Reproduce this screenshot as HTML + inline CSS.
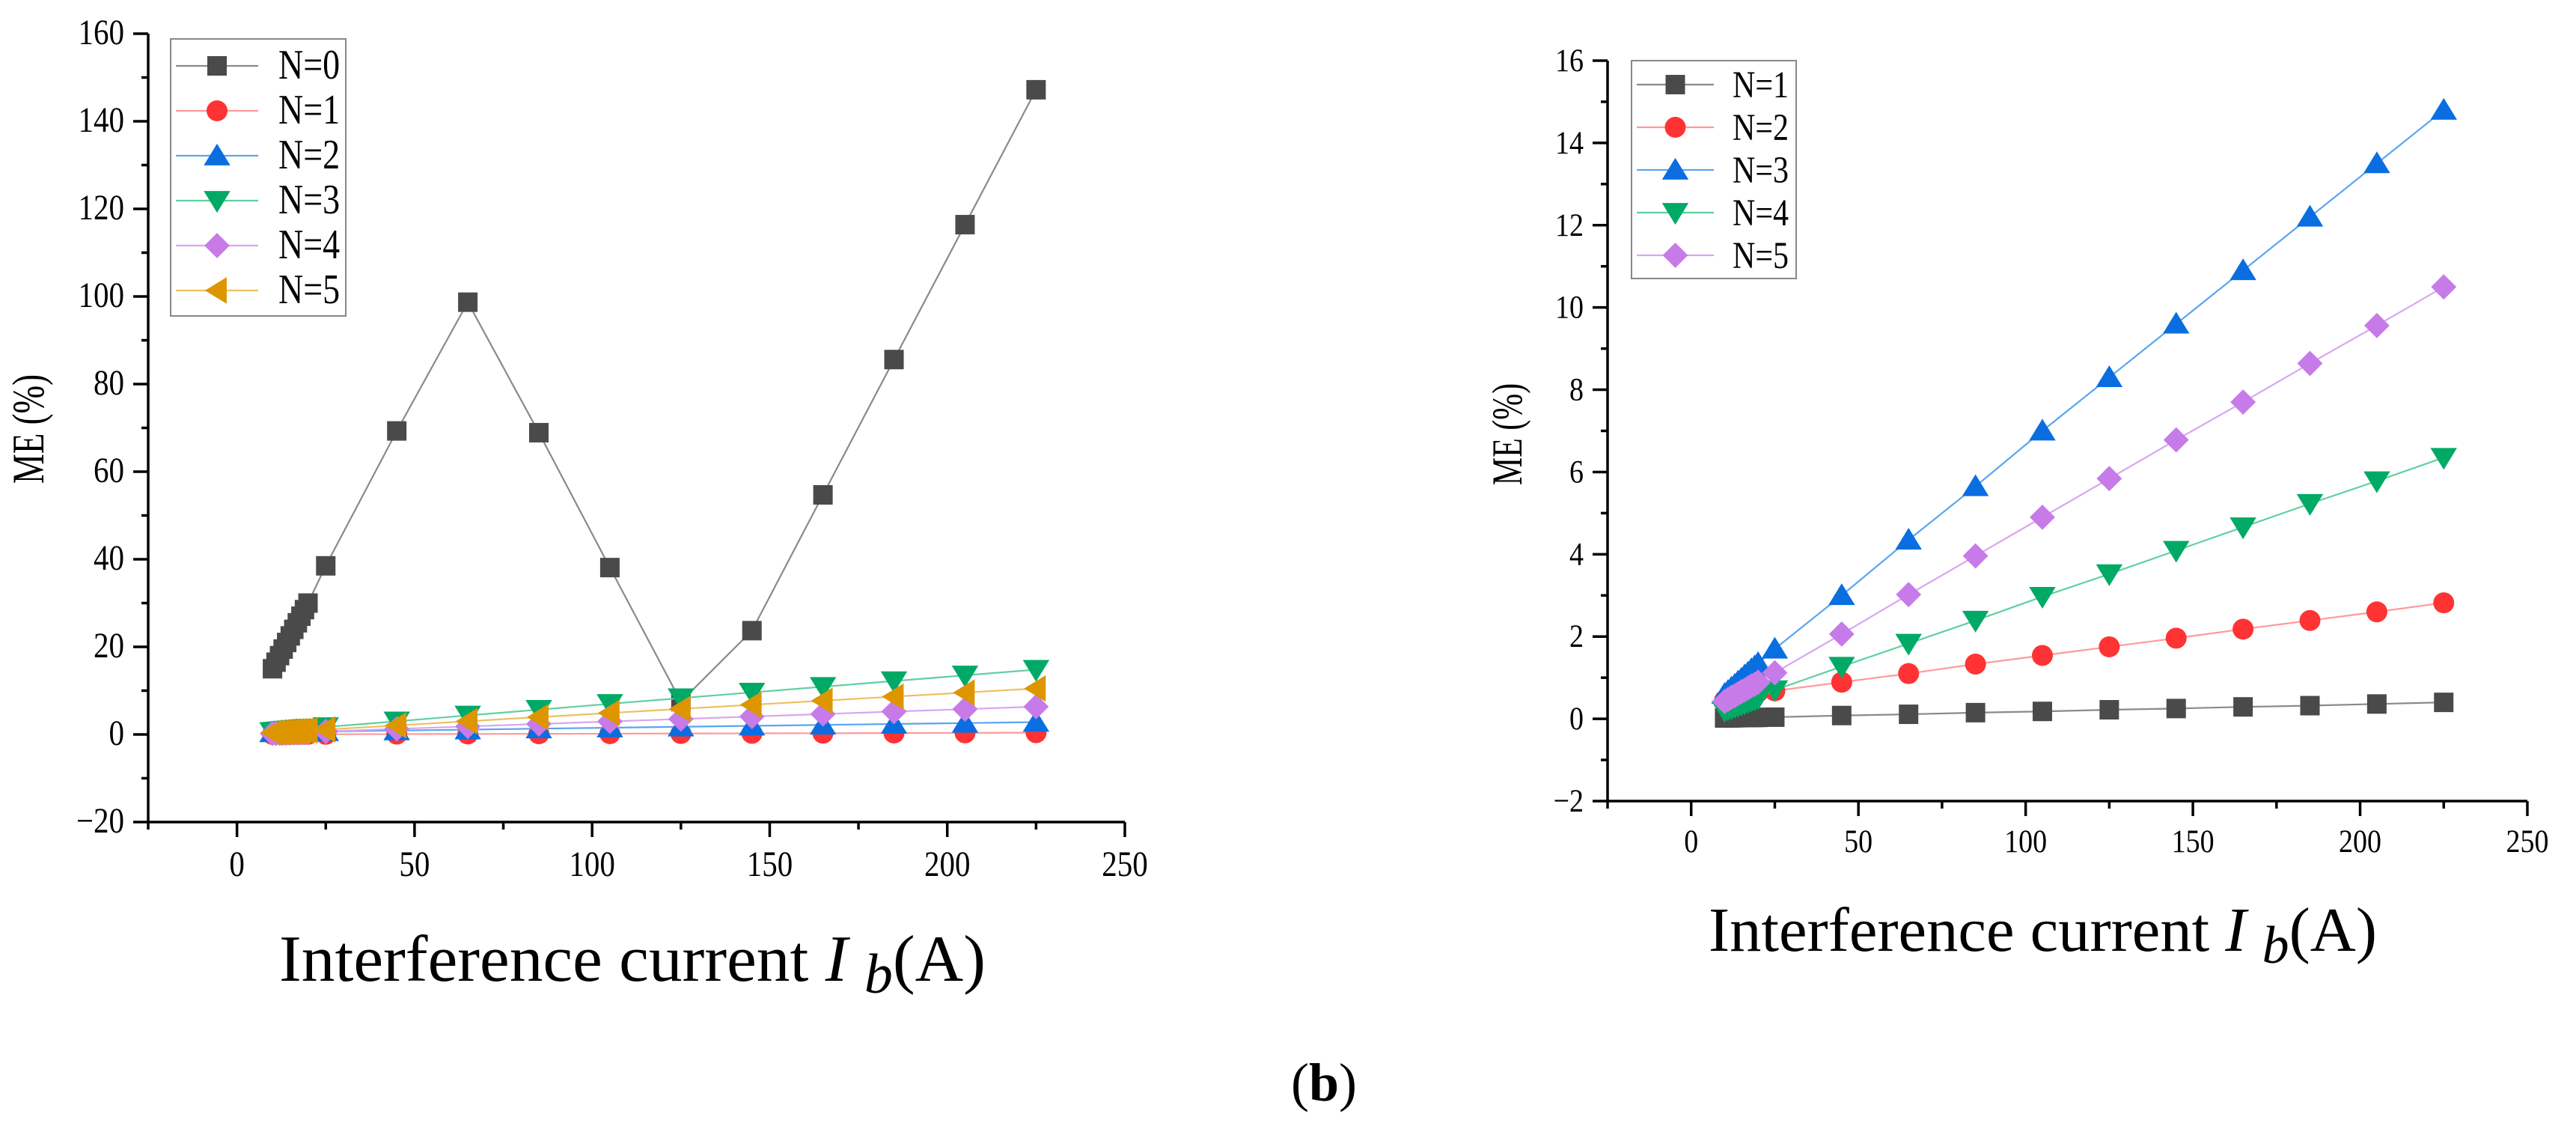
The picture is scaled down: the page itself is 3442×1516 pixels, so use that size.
<!DOCTYPE html>
<html><head><meta charset="utf-8"><style>
html,body{margin:0;padding:0;background:#fff;}
svg{display:block;}
text{font-family:"Liberation Serif",serif;fill:#000;}
</style></head><body>
<svg id="fig" width="3442" height="1516" viewBox="0 0 3442 1516" xmlns="http://www.w3.org/2000/svg"></svg>
<script>
// ---- data ----
const xVals = [10,11,12,13,14,15,16,17,18,19,20,25,45,65,85,105,125,145,165,185,205,225];
const serN0 = [15,16.5,18,19.5,21,22.5,24,25.5,27,28.5,30,38.5,69.3,98.7,68.9,38.1,7.5,23.7,54.7,85.6,116.4,147.2];
const serA = [0.02,0.022,0.024,0.026,0.028,0.03,0.031,0.032,0.033,0.034,0.035,0.04,0.08,0.11,0.15,0.18,0.22,0.25,0.29,0.32,0.36,0.4];
const serB = [0.45,0.47,0.49,0.51,0.53,0.55,0.57,0.59,0.61,0.63,0.65,0.68,0.89,1.1,1.33,1.54,1.75,1.96,2.18,2.39,2.6,2.82];
const serC = [0.6,0.67,0.75,0.82,0.9,0.97,1.05,1.12,1.2,1.27,1.35,1.7,3.0,4.35,5.65,7.0,8.3,9.6,10.9,12.2,13.5,14.8];
const serD = [0.2,0.23,0.26,0.29,0.32,0.35,0.38,0.41,0.44,0.47,0.5,0.7,1.27,1.83,2.39,2.97,3.52,4.09,4.66,5.23,5.78,6.35];
const serE = [0.42,0.47,0.52,0.56,0.61,0.66,0.7,0.75,0.8,0.84,0.89,1.12,2.06,3.02,3.96,4.9,5.84,6.78,7.7,8.64,9.56,10.5];
const xTickLabels = ["0","50","100","150","200","250"];
const leftYTickLabels = ["\u221220","0","20","40","60","80","100","120","140","160"];
const rightYTickLabels = ["\u22122","0","2","4","6","8","10","12","14","16"];

const NS="http://www.w3.org/2000/svg";
const svg=document.getElementById('fig');
function el(tag,attrs,parent){const e=document.createElementNS(NS,tag);for(const k in attrs)e.setAttribute(k,attrs[k]);(parent||svg).appendChild(e);return e;}

const STY={
 gray:{fill:'#4a4a4a',line:'#8a8a8a',m:'square'},
 red:{fill:'#ff3333',line:'#ff9a9a',m:'circle'},
 blue:{fill:'#0a6ee0',line:'#5aa5f0',m:'up'},
 green:{fill:'#00aa66',line:'#5fd0a0',m:'down'},
 purple:{fill:'#c77be8',line:'#d9a6f0',m:'diamond'},
 orange:{fill:'#dd9500',line:'#ecc060',m:'left'}
};
function marker(g,type,cx,cy,fill,s){
 let e;
 if(type==='square') e=el('rect',{x:cx-s/2,y:cy-s/2,width:s,height:s,fill:fill},g);
 else if(type==='circle') e=el('circle',{cx:cx,cy:cy,r:s/2+1,fill:fill},g);
 else {
  const h=s*0.62;let p;
  if(type==='up') p=[[cx,cy-h],[cx+h*1.1,cy+h*0.8],[cx-h*1.1,cy+h*0.8]];
  if(type==='down') p=[[cx,cy+h],[cx+h*1.1,cy-h*0.8],[cx-h*1.1,cy-h*0.8]];
  if(type==='left') p=[[cx-h,cy],[cx+h*0.8,cy-h*1.1],[cx+h*0.8,cy+h*1.1]];
  if(type==='diamond') p=[[cx,cy-h*1.05],[cx+h*1.05,cy],[cx,cy+h*1.05],[cx-h*1.05,cy]];
  e=el('polygon',{points:p.map(q=>q.join(',')).join(' '),fill:fill},g);
 }
 return e;
}
function sText(parent,x,y,str,size,anchor,sy){
 const t=el('text',{x:x,y:y/sy,'font-size':size,'text-anchor':anchor,transform:'scale(1,'+sy+')'},parent);
 t.textContent=str;return t;
}

function chart(cfg){
 const g=el('g',{});
 
 
 const X=v=>cfg.x0+(v-cfg.xmin)*(cfg.x1-cfg.x0)/(cfg.xmax-cfg.xmin);
 const Y=v=>cfg.y1-(v-cfg.ymin)*(cfg.y1-cfg.y0)/(cfg.ymax-cfg.ymin);
 cfg.series.forEach(s=>{
  const st=STY[s.style];
  const sg=el('g',{},g);
  
  
  const pl=el('polyline',{points:xVals.map((x,i)=>X(x)+','+Y(s.data[i])).join(' '),fill:'none',stroke:st.line,'stroke-width':2.2},sg);
  
  
  xVals.forEach((x,i)=>{const m=marker(sg,st.m,X(x),Y(s.data[i]),st.fill,cfg.ms);
   
   });
 });
 const ax=el('g',{stroke:'#000','stroke-width':3.5,fill:'none'},g);
 
 
 el('line',{x1:cfg.x0,y1:cfg.y0,x2:cfg.x0,y2:cfg.y1+2},ax);
 el('line',{x1:cfg.x0-2,y1:cfg.y1,x2:cfg.x1,y2:cfg.y1},ax);
 for(let v=cfg.xmin;v<=cfg.xmax+0.01;v+=cfg.xminor){
  const major=Math.abs(((v%cfg.xstep)+cfg.xstep)%cfg.xstep)<0.01;
  el('line',{x1:X(v),y1:cfg.y1,x2:X(v),y2:cfg.y1+(major?20:10)},ax);
 }
 for(let v=cfg.ymin;v<=cfg.ymax+0.01;v+=cfg.yminor){
  const major=Math.abs(((v-cfg.ymin)%cfg.ystep))<0.01;
  el('line',{x1:cfg.x0,y1:Y(v),x2:cfg.x0-(major?20:9),y2:Y(v)},ax);
 }
 xTickLabels.forEach((l,i)=>{const t=sText(g,X(i*cfg.xstep),cfg.y1+cfg.xlabOff,l,cfg.fs,'middle',1.15);
  
  });
 cfg.ylabels.forEach((l,i)=>{const t=sText(g,cfg.x0-32,Y(cfg.ymin+i*cfg.ystep)+14,l,cfg.fs,'end',1.15);
  
  });
 const yt=el('text',{x:0,y:0,'font-size':cfg.fs+4,'text-anchor':'middle',transform:'translate('+cfg.ytx+','+cfg.yty+') rotate(-90) scale(1,1.35)'},g);
 yt.textContent='ME (%)';
 
 
 const xt=el('text',{x:cfg.xtx,y:cfg.xty,'font-size':cfg.xtfs,textLength:cfg.xtw,lengthAdjust:'spacingAndGlyphs'},g);
 
 
 xt.appendChild(document.createTextNode('Interference current '));
 const ti=el('tspan',{'font-style':'italic'},xt);ti.textContent='I ';
 const tb=el('tspan',{'font-style':'italic',dy:16,'font-size':cfg.xtfs*0.85},xt);tb.textContent='b';
 const ta=el('tspan',{dy:-16},xt);ta.textContent='(A)';
 const lg=el('g',{},g);
 
 
 const L=cfg.leg;
 el('rect',{x:L.x,y:L.y,width:L.w,height:L.h,fill:'#fff',stroke:'#888','stroke-width':2},lg);
 cfg.series.forEach((s,i)=>{
  const st=STY[s.style];const cy=L.r0+i*L.dr;
  const le=el('g',{},lg);
  
  
  el('line',{x1:L.x+7,y1:cy,x2:L.x+L.lw,y2:cy,stroke:st.line,'stroke-width':2.2},le);
  marker(le,st.m,L.x+7+(L.lw-7)/2,cy,st.fill,cfg.ms);
  sText(le,L.tx,cy+17,s.label,L.fs,'start',1.22);
 });
}

chart({name:'left-chart',x0:198,x1:1503,xmin:-25,xmax:250,xstep:50,xminor:25,
 y0:45,y1:1098,ymin:-20,ymax:160,ystep:20,yminor:10,ylabels:leftYTickLabels,
 fs:41,xlabOff:72,ms:26,ytx:58,yty:573,xtx:373,xty:1310,xtfs:88,xtw:944,
 leg:{x:228,y:52,w:234,h:370,r0:88,dr:60,lw:117,tx:372,fs:46},
 series:[{label:'N=0',style:'gray',data:serN0},{label:'N=1',style:'red',data:serA},
  {label:'N=2',style:'blue',data:serB},{label:'N=3',style:'green',data:serC},
  {label:'N=4',style:'purple',data:serD},{label:'N=5',style:'orange',data:serE}]});

chart({name:'right-chart',x0:2148,x1:3377,xmin:-25,xmax:250,xstep:50,xminor:25,
 y0:81,y1:1070,ymin:-2,ymax:16,ystep:2,yminor:1,ylabels:rightYTickLabels,
 fs:38,xlabOff:68,ms:26,ytx:2033,yty:580,xtx:2283,xty:1270,xtfs:84,xtw:893,
 leg:{x:2180,y:81,w:220,h:291,r0:113,dr:57,lw:110,tx:2315,fs:42},
 series:[{label:'N=1',style:'gray',data:serA},{label:'N=2',style:'red',data:serB},
  {label:'N=3',style:'blue',data:serC},{label:'N=4',style:'green',data:serD},
  {label:'N=5',style:'purple',data:serE}]});

const cap=el('text',{x:1769,y:1470,'font-size':72,'text-anchor':'middle'});


cap.appendChild(document.createTextNode('('));
const cb=el('tspan',{'font-weight':'bold'},cap);cb.textContent='b';
cap.appendChild(document.createTextNode(')'));
</script>
</body></html>
